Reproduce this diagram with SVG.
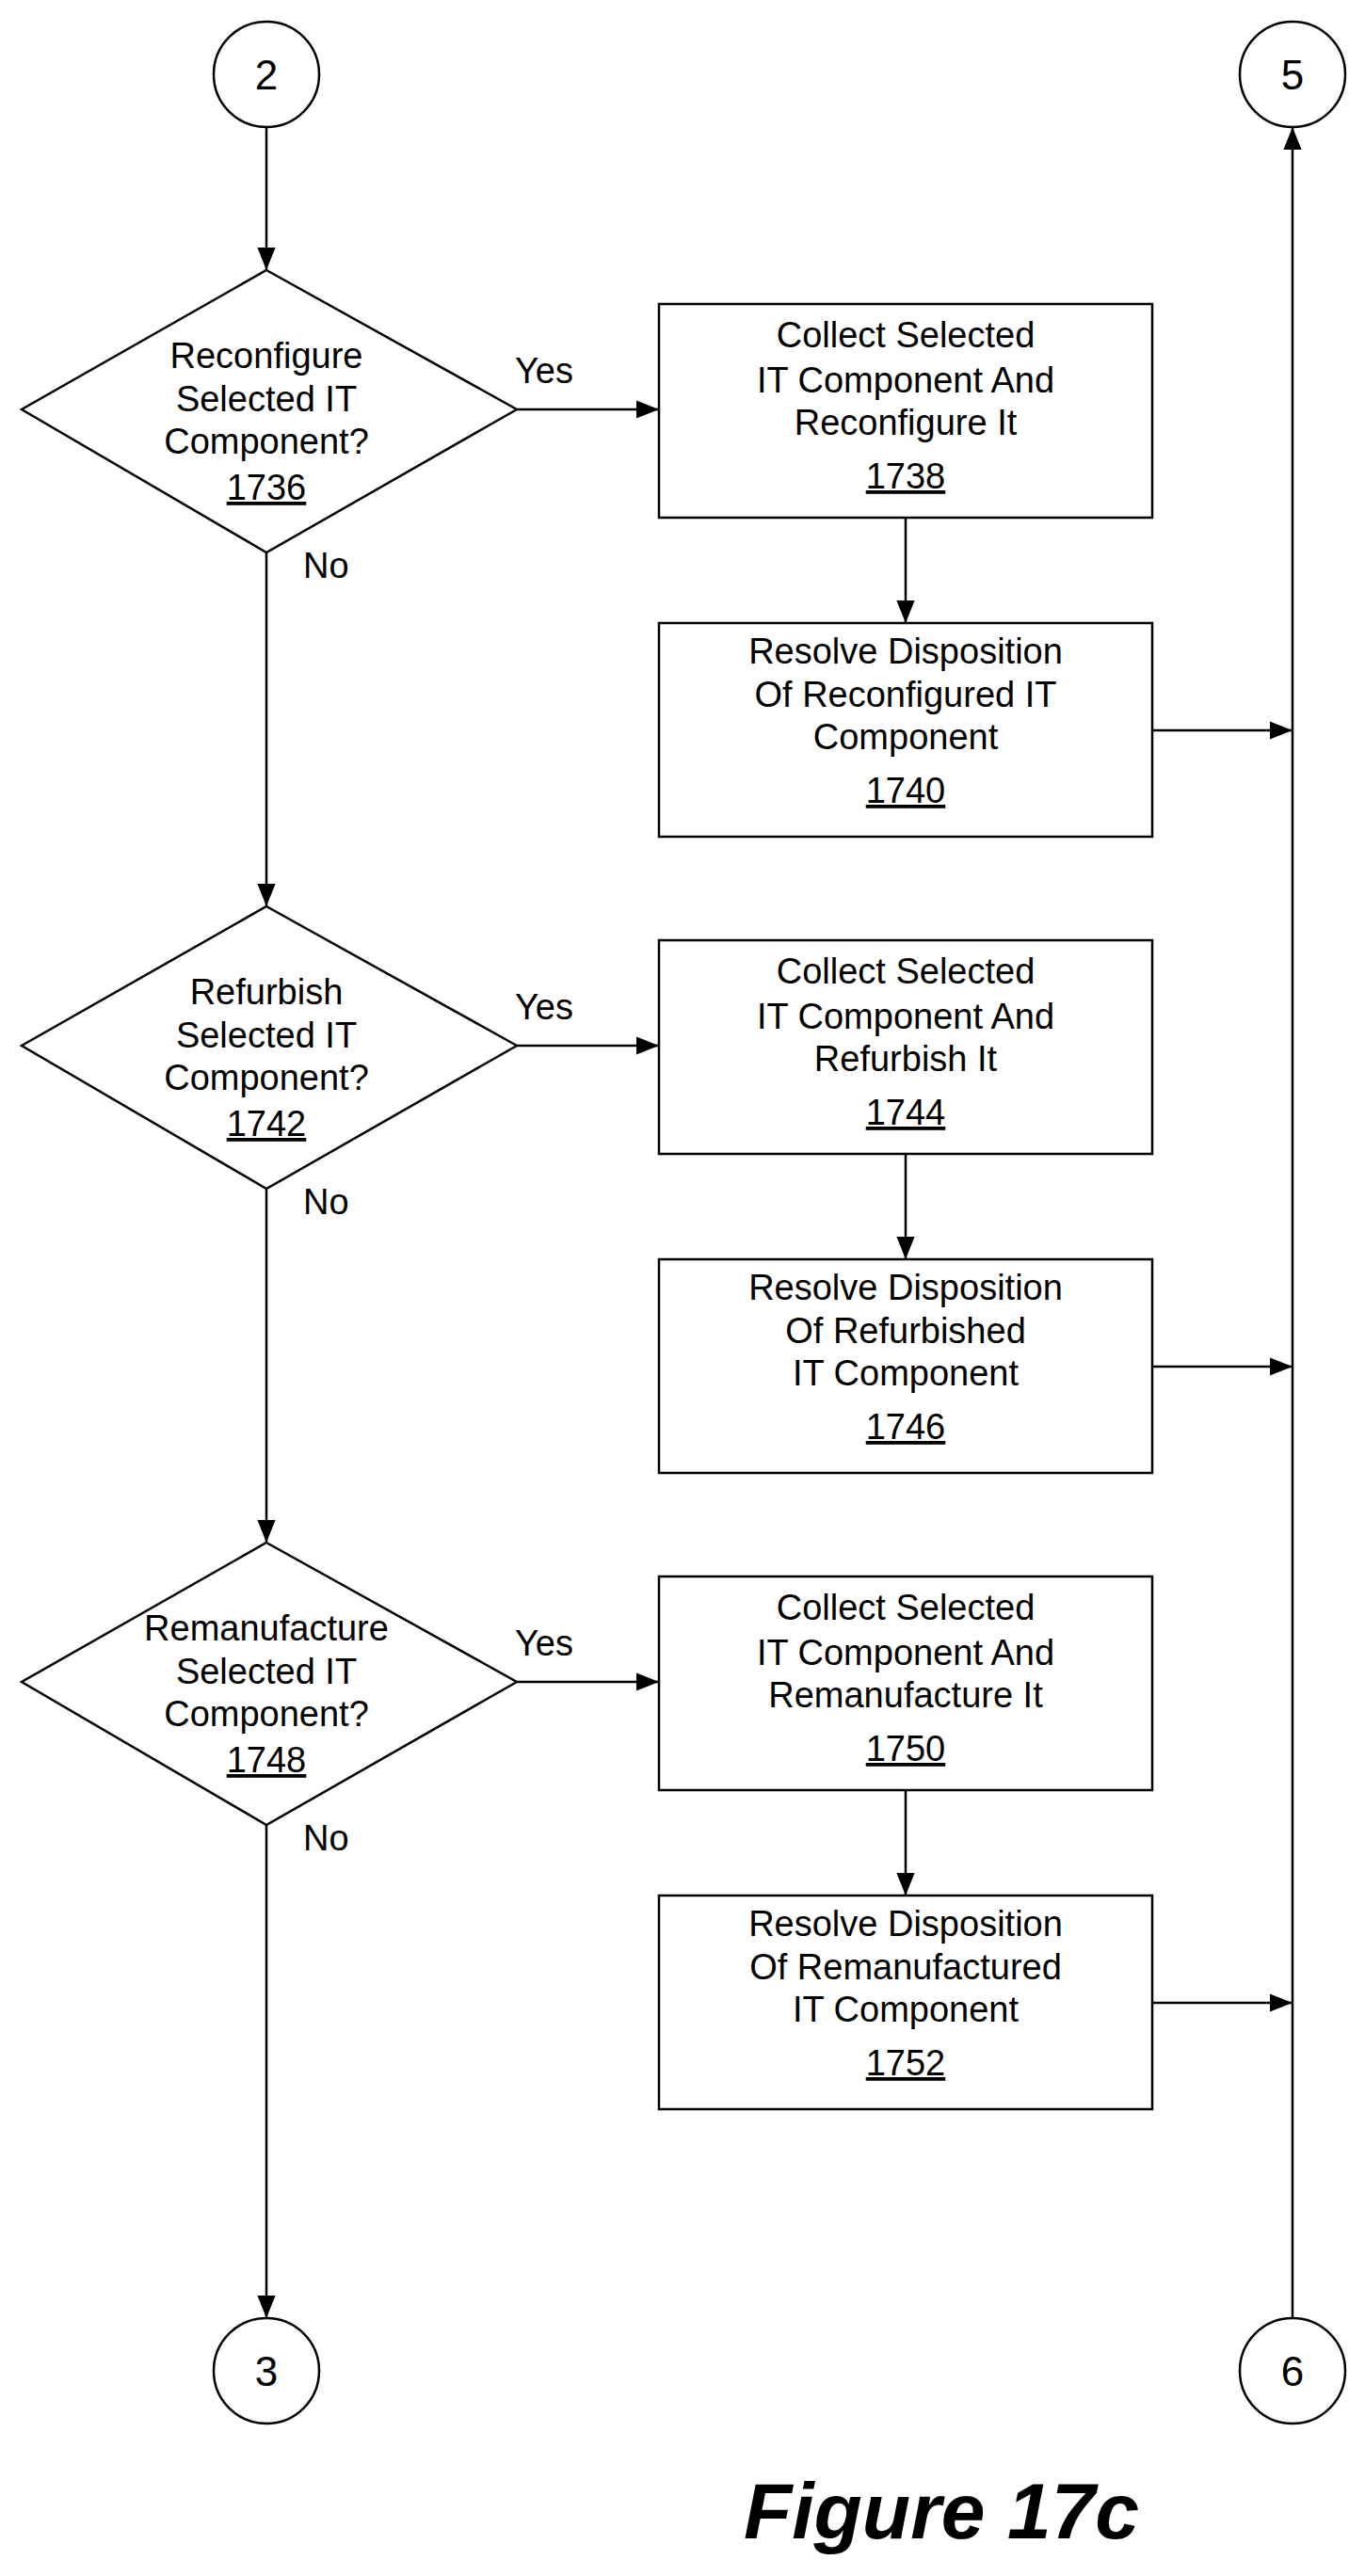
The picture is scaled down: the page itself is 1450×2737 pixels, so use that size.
<svg xmlns="http://www.w3.org/2000/svg" width="1450" height="2737" viewBox="0 0 1450 2737">
<style>
.s{fill:#fff;stroke:#000;stroke-width:2.5}
.l{fill:none;stroke:#000;stroke-width:2.5}
text{font-family:"Liberation Sans",Arial,sans-serif;font-size:38px;text-anchor:middle;fill:#000}
.c{font-size:44px}
.n{text-decoration:underline}
.lb{text-anchor:start}
</style>
<defs>
<marker id="b" viewBox="0 0 10 10" refX="10" refY="5" markerWidth="24" markerHeight="24" markerUnits="userSpaceOnUse" orient="auto"><path d="M0,1L10,5L0,9z" fill="#000"/></marker></defs>
<g id="c2"><circle class="s" cx="283" cy="79" r="56"/><text class="c" x="283" y="95">2</text></g>
<g id="c5"><circle class="s" cx="1373" cy="79" r="56"/><text class="c" x="1373" y="95">5</text></g>
<g id="c3"><circle class="s" cx="283" cy="2519" r="56"/><text class="c" x="283" y="2535">3</text></g>
<g id="c6"><circle class="s" cx="1373" cy="2519" r="56"/><text class="c" x="1373" y="2535">6</text></g>
<g id="d1736"><path class="s" d="M283,287L549,435L283,587L23,435Z"/><text x="283" y="391">Reconfigure</text><text x="283" y="437">Selected IT</text><text x="283" y="482">Component?</text><text class="n" x="283" y="531">1736</text></g>
<g id="b1738"><rect class="s" x="700" y="323" width="524" height="227"/><text x="962" y="369">Collect Selected</text><text x="962" y="417">IT Component And</text><text x="962" y="462">Reconfigure It</text><text class="n" x="962" y="519">1738</text></g>
<g id="b1740"><rect class="s" x="700" y="662" width="524" height="227"/><text x="962" y="705">Resolve Disposition</text><text x="962" y="751">Of Reconfigured IT</text><text x="962" y="796">Component</text><text class="n" x="962" y="853">1740</text></g>
<g id="d1742" transform="translate(0,676)"><path class="s" d="M283,287L549,435L283,587L23,435Z"/><text x="283" y="391">Refurbish</text><text x="283" y="437">Selected IT</text><text x="283" y="482">Component?</text><text class="n" x="283" y="531">1742</text></g>
<g id="b1744" transform="translate(0,676)"><rect class="s" x="700" y="323" width="524" height="227"/><text x="962" y="369">Collect Selected</text><text x="962" y="417">IT Component And</text><text x="962" y="462">Refurbish It</text><text class="n" x="962" y="519">1744</text></g>
<g id="b1746" transform="translate(0,676)"><rect class="s" x="700" y="662" width="524" height="227"/><text x="962" y="705">Resolve Disposition</text><text x="962" y="751">Of Refurbished</text><text x="962" y="796">IT Component</text><text class="n" x="962" y="853">1746</text></g>
<g id="d1748" transform="translate(0,1352)"><path class="s" d="M283,287L549,435L283,587L23,435Z"/><text x="283" y="391">Remanufacture</text><text x="283" y="437">Selected IT</text><text x="283" y="482">Component?</text><text class="n" x="283" y="531">1748</text></g>
<g id="b1750" transform="translate(0,1352)"><rect class="s" x="700" y="323" width="524" height="227"/><text x="962" y="369">Collect Selected</text><text x="962" y="417">IT Component And</text><text x="962" y="462">Remanufacture It</text><text class="n" x="962" y="519">1750</text></g>
<g id="b1752" transform="translate(0,1352)"><rect class="s" x="700" y="662" width="524" height="227"/><text x="962" y="705">Resolve Disposition</text><text x="962" y="751">Of Remanufactured</text><text x="962" y="796">IT Component</text><text class="n" x="962" y="853">1752</text></g>
<g id="connectors">
<path class="l" marker-end="url(#b)" d="M283,135V287"/>
<path class="l" marker-end="url(#b)" d="M283,587V963"/>
<path class="l" marker-end="url(#b)" d="M283,1263V1639"/>
<path class="l" marker-end="url(#b)" d="M283,1939V2463"/>
<path class="l" marker-end="url(#b)" d="M1373,2463V135"/>
<path class="l" marker-end="url(#b)" d="M549,435H700"/>
<path class="l" marker-end="url(#b)" d="M962,550V662"/>
<path class="l" marker-end="url(#b)" d="M1224,776H1373"/>
<path class="l" marker-end="url(#b)" d="M549,1111H700"/>
<path class="l" marker-end="url(#b)" d="M962,1226V1338"/>
<path class="l" marker-end="url(#b)" d="M1224,1452H1373"/>
<path class="l" marker-end="url(#b)" d="M549,1787H700"/>
<path class="l" marker-end="url(#b)" d="M962,1902V2014"/>
<path class="l" marker-end="url(#b)" d="M1224,2128H1373"/>
<text class="lb" x="547" y="407">Yes</text><text class="lb" x="322" y="614">No</text>
<text class="lb" x="547" y="1083">Yes</text><text class="lb" x="322" y="1290">No</text>
<text class="lb" x="547" y="1759">Yes</text><text class="lb" x="322" y="1966">No</text>
</g>
<text x="1000" y="2697" style="font-size:84px;font-weight:bold;font-style:italic">Figure 17c</text>
</svg>
